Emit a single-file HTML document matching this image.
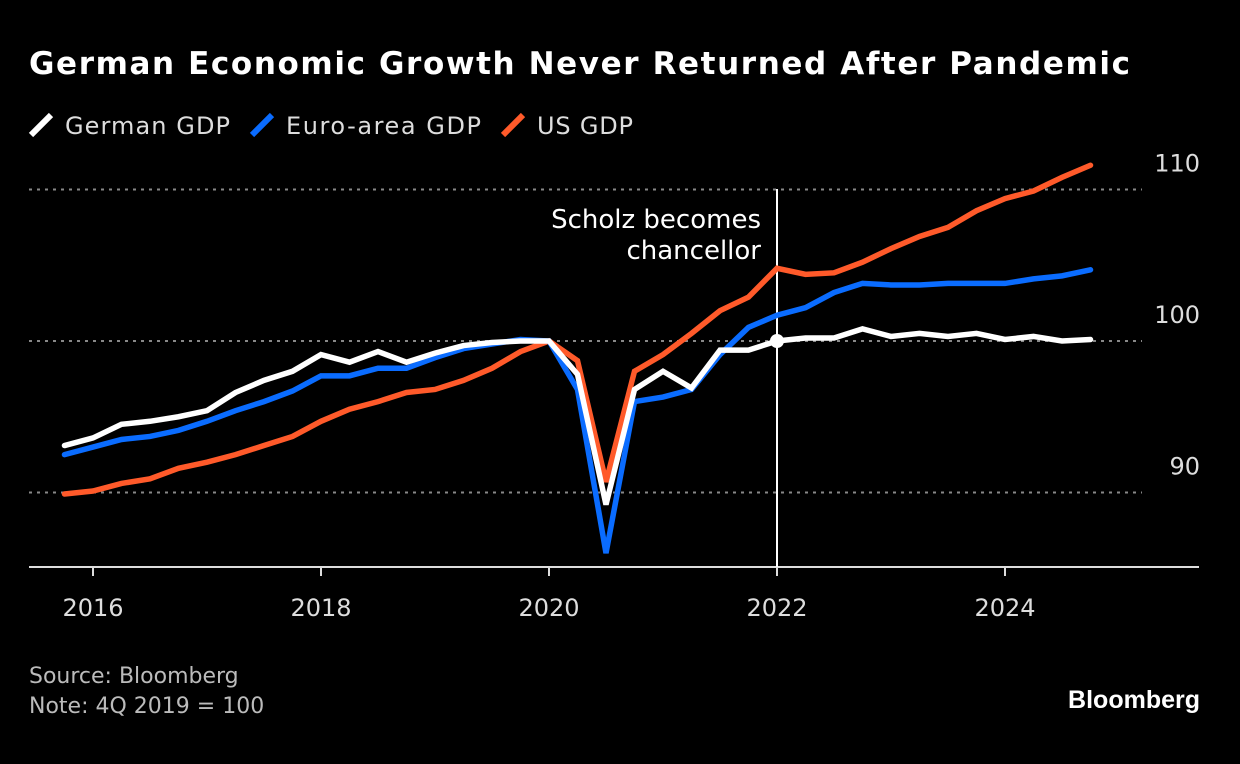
<!DOCTYPE html>
<html><head><meta charset="utf-8"><style>
body{margin:0;background:#000;width:1240px;height:760px;overflow:hidden;font-family:"DejaVu Sans","Liberation Sans",sans-serif;color:#fff}
</style></head><body>
<svg width="1240" height="760">
<text x="29" y="74" font-size="31" font-weight="bold" fill="#fff" font-family="'DejaVu Sans',sans-serif" textLength="1101" lengthAdjust="spacing">German Economic Growth Never Returned After Pandemic</text>
<g id="legend" font-size="24" fill="#ddd"></g>
<g id="grid"></g><g id="axis"></g><g id="lines"></g>
<text x="29" y="683" font-size="22" fill="#bbb">Source: Bloomberg</text>
<text x="29" y="713" font-size="22" fill="#bbb">Note: 4Q 2019 = 100</text>
<text x="1200" y="708" font-size="25" font-weight="bold" text-anchor="end" fill="#fff" font-family="'Liberation Sans',sans-serif">Bloomberg</text>
</svg>
<script>
const startYear=2015.75;
const yTicks=[90,100,110];
const xTicks=[2016,2018,2020,2022,2024];
const germanGDP=[93.1,93.6,94.5,94.7,95.0,95.4,96.6,97.4,98.0,99.1,98.6,99.3,98.6,99.2,99.7,99.9,100,100,97.8,89.2,96.8,98.0,96.9,99.4,99.4,100,100.2,100.2,100.8,100.3,100.5,100.3,100.5,100.1,100.3,100.0,100.1];
const euroGDP=[92.5,93.0,93.5,93.7,94.1,94.7,95.4,96.0,96.7,97.7,97.7,98.2,98.2,98.9,99.5,99.8,100.1,100,96.8,86.0,96.0,96.3,96.8,99.1,100.9,101.7,102.2,103.2,103.8,103.7,103.7,103.8,103.8,103.8,104.1,104.3,104.7];
const usGDP=[89.9,90.1,90.6,90.9,91.6,92.0,92.5,93.1,93.7,94.7,95.5,96.0,96.6,96.8,97.4,98.2,99.3,100,98.7,90.7,98.0,99.1,100.5,102.0,102.9,104.8,104.4,104.5,105.2,106.1,106.9,107.5,108.6,109.4,109.9,110.8,111.6];
const seriesNames=["German GDP","Euro-area GDP","US GDP"];
const eventYear=2022;
const NS="http://www.w3.org/2000/svg";
const X=t=>93+(t-2016)*114, Y=v=>341-(v-100)*15.15;
function mk(tag,at,parent,txt){const e=document.createElementNS(NS,tag);for(const k in at)e.setAttribute(k,at[k]);if(txt!=null)e.textContent=txt;document.getElementById(parent).appendChild(e);return e;}
yTicks.forEach(v=>{
 const l=mk('line',{x1:29,x2:1142,y1:Y(v),y2:Y(v),stroke:'#888','stroke-width':2,'stroke-dasharray':'3,5'},'grid');
 
 
 const t=mk('text',{x:1200,y:Y(v)-18,'font-size':24,fill:'#ddd','text-anchor':'end'},'grid',v);
 
 
});
const ax=mk('line',{x1:29,x2:1199,y1:567,y2:567,stroke:'#ddd','stroke-width':2},'axis');


xTicks.forEach(y=>{
 const tk=mk('line',{x1:X(y),x2:X(y),y1:567,y2:576,stroke:'#ddd','stroke-width':2},'axis');
 
 
 const t=mk('text',{x:X(y),y:616,'font-size':24,fill:'#ddd','text-anchor':'middle'},'axis',y);
 
 
});
const vl=mk('line',{x1:X(eventYear),x2:X(eventYear),y1:189,y2:567,stroke:'#fff','stroke-width':2},'axis');


const a1=mk('text',{x:X(eventYear)-16,y:228,'font-size':26,fill:'#fff','text-anchor':'end'},'axis','Scholz becomes');


const a2=mk('text',{x:X(eventYear)-16,y:259,'font-size':26,fill:'#fff','text-anchor':'end'},'axis','chancellor');


[[usGDP,'#ff5a2a','us-gdp-line'],[euroGDP,'#0a6cff','euro-area-gdp-line'],[germanGDP,'#ffffff','german-gdp-line']].forEach(([d,c,n])=>{
 const p=mk('polyline',{points:d.map((v,i)=>X(startYear+i/4)+','+Y(v)).join(' '),fill:'none',stroke:c,'stroke-width':5.5,'stroke-linejoin':'miter','stroke-linecap':'round'},'lines');
 
 
});
const di=Math.round((eventYear-startYear)*4);
const dot=mk('circle',{cx:X(eventYear),cy:Y(germanGDP[di]),r:7,fill:'#fff'},'lines');


const lc=['#ffffff','#0a6cff','#ff5a2a'];let lx=31;
const lw=[165,195,96];
seriesNames.forEach((s,i)=>{
 const m=mk('line',{x1:lx,y1:135,x2:lx+20,y2:115,stroke:lc[i],'stroke-width':6},'legend');
 
 
 const t=mk('text',{x:lx+34,y:134,'font-size':24,fill:'#ddd',textLength:lw[i],lengthAdjust:'spacing'},'legend',s);
 
 
 lx+=34+lw[i]+22;
});
</script>
</body></html>
